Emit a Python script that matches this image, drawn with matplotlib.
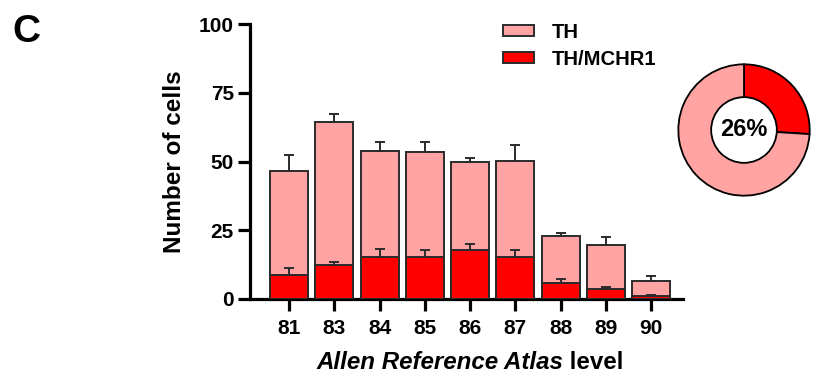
import matplotlib
matplotlib.use("Agg")
import matplotlib.pyplot as plt
import numpy as np

plt.rcParams['font.family'] = ['Liberation Sans', 'DejaVu Sans']
plt.rcParams['font.weight'] = 'bold'

levels = ['81', '83', '84', '85', '86', '87', '88', '89', '90']
th_mean = [46.7, 64.4, 54.0, 53.6, 49.8, 50.3, 22.8, 19.5, 6.5]
th_err = [5.5, 2.8, 3.0, 3.4, 1.4, 5.6, 1.3, 3.0, 1.8]
dbl_mean = [8.7, 12.4, 15.2, 15.4, 18.0, 15.1, 5.9, 3.7, 1.0]
dbl_err = [2.5, 1.1, 2.9, 2.3, 1.9, 2.6, 1.3, 0.8, 0.5]
pie_labels = ['TH/MCHR1', 'TH only']
pie_values = [26, 74]
y_ticks = [0, 25, 50, 75, 100]

pink = '#FFA3A3'
red = '#FF0000'
edge = '#2b2b2b'

fig = plt.figure(figsize=(8.13, 3.75), dpi=100)
ax = fig.add_axes([250/813, 1-299/375, (683-250)/813, (299-24)/375])

x = np.arange(len(levels))
w = 0.84
b1 = ax.bar(x, th_mean, width=w, color=pink, edgecolor=edge, linewidth=1.4,
            label='TH', zorder=2)
ax.errorbar(x, th_mean, yerr=[np.zeros(len(x)), th_err], fmt='none',
            ecolor=edge, elinewidth=1.4, capsize=3.8, capthick=1.4, zorder=3)
b2 = ax.bar(x, dbl_mean, width=w, color=red, edgecolor=edge, linewidth=1.4,
            label='TH/MCHR1', zorder=4)
ax.errorbar(x, dbl_mean, yerr=[np.zeros(len(x)), dbl_err], fmt='none',
            ecolor=edge, elinewidth=1.4, capsize=3.8, capthick=1.4, zorder=5)

ax.set_xlim(-0.86, 8.7)
ax.set_ylim(0, 100)
ax.set_yticks(y_ticks)
ax.set_xticks(x)
ax.set_xticklabels(levels)
for s in ['top', 'right']:
    ax.spines[s].set_visible(False)
for s in ['left', 'bottom']:
    ax.spines[s].set_linewidth(2.3)
    ax.spines[s].set_color('black')
ax.tick_params(axis='both', width=2.3, length=8.6, labelsize=15, direction='out')
ax.tick_params(axis='x', pad=6)
ax.tick_params(axis='y', pad=3)
ax.set_ylabel('Number of cells', fontsize=17.5, fontweight='bold', labelpad=9)

leg = ax.legend(handles=[b1, b2], loc='upper left', bbox_to_anchor=(503/813, 1-23/375),
                bbox_transform=fig.transFigure, frameon=False, fontsize=14.6,
                handlelength=1.55, handleheight=0.45, handletextpad=0.85,
                labelspacing=0.38, borderaxespad=0, borderpad=0)

# x label: italic part + regular part
renderer = fig.canvas.get_renderer()
fs = 17.4
t1 = fig.text(0, 0, 'Allen Reference Atlas', fontsize=fs, fontweight='bold', fontstyle='italic')
t2 = fig.text(0, 0, ' level', fontsize=fs, fontweight='bold')
w1 = t1.get_window_extent(renderer).width
w2 = t2.get_window_extent(renderer).width
cx = 470
x0 = cx - (w1 + w2) / 2
base_y = 1 - 369/375
t1.set_position((x0/813, base_y))
t2.set_position(((x0 + w1)/813, base_y))

fig.text(12/813, 1-14/375, 'C', fontsize=28, fontweight='bold', va='top', ha='left')

# donut
r = 67
pax = fig.add_axes([(744-r)/813, 1-(130+r)/375, 2*r/813, 2*r/375])
pax.pie(pie_values, colors=[red, pink], startangle=90, counterclock=False,
        radius=1.0, wedgeprops=dict(edgecolor='black', linewidth=1.3))
hole = plt.Circle((0, 0), 0.5, facecolor='white', edgecolor='black', linewidth=1.3, zorder=5)
pax.add_patch(hole)
pax.text(0, 0, f'{pie_values[0]}%', ha='center', va='center', fontsize=17,
         fontweight='bold', zorder=6)
pax.set_xlim(-1.02, 1.02)
pax.set_ylim(-1.02, 1.02)
pax.set_aspect('equal')
pax.axis('off')

fig.savefig('out.png', dpi=100)
